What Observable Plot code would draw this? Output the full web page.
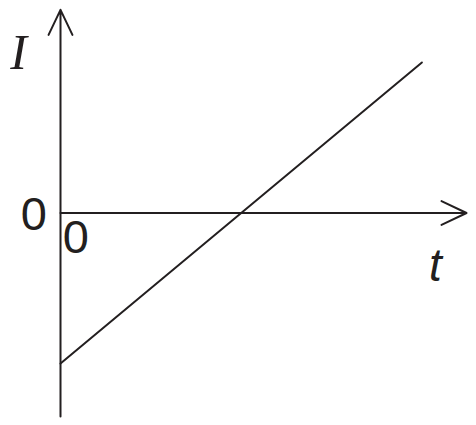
<!DOCTYPE html>
<html>
<head>
<meta charset="utf-8">
<script src="https://cdn.jsdelivr.net/npm/d3@7"></script>
<script src="https://cdn.jsdelivr.net/npm/@observablehq/plot@0.6"></script>
<style>
  html, body { margin: 0; padding: 0; background: #fff; }
</style>
</head>
<body>
<div id="chart"></div>
<script>
// Line I(t): values
const tValues = [0, 2];
const iValues = [-1, 1];

// Axis extents (data units)
const tAxis = [0, 2.247];
const iAxis = [-1.352, 1.35];

// Labels
const labels = [
  {t: -0.232, i: 0.96, text: "I", font: "Liberation Serif", style: "italic", size: 50},
  {t: -0.147, i: -0.11, text: "0", font: "Liberation Sans", style: "normal", size: 47},
  {t: 0.085, i: -0.269, text: "0", font: "Liberation Sans", style: "normal", size: 47},
  {t: 2.075, i: -0.449, text: "t", font: "Liberation Sans", style: "italic", size: 46}
];

const lineData = tValues.map((t, k) => ({t, i: iValues[k]}));
const ink = "#231f20";

const chart = Plot.plot({
  width: 476,
  height: 425,
  margin: 0,
  x: {domain: [0, 2], range: [60, 421.4], axis: null},
  y: {domain: [-1, 1], range: [363, 62], axis: null},
  style: {background: "#fff", overflow: "visible"},
  marks: [
    Plot.arrow([{x1: tAxis[0], y1: 0, x2: tAxis[1], y2: 0}], {
      x1: "x1", y1: "y1", x2: "x2", y2: "y2",
      stroke: ink, strokeWidth: 2, bend: 0, headAngle: 51, headLength: 20.8
    }),
    Plot.arrow([{x1: 0, y1: iAxis[0], x2: 0, y2: iAxis[1]}], {
      x1: "x1", y1: "y1", x2: "x2", y2: "y2",
      stroke: ink, strokeWidth: 2, bend: 0, headAngle: 51, headLength: 20.8
    }),
    Plot.line(lineData, {x: "t", y: "i", stroke: ink, strokeWidth: 2}),
    ...labels.map(d => Plot.text([d], {
      x: "t", y: "i", text: "text",
      fontFamily: d.font, fontStyle: d.style, fontSize: d.size,
      fill: ink, textAnchor: "middle", lineAnchor: "bottom"
    }))
  ]
});
document.getElementById("chart").appendChild(chart);
</script>
</body>
</html>
